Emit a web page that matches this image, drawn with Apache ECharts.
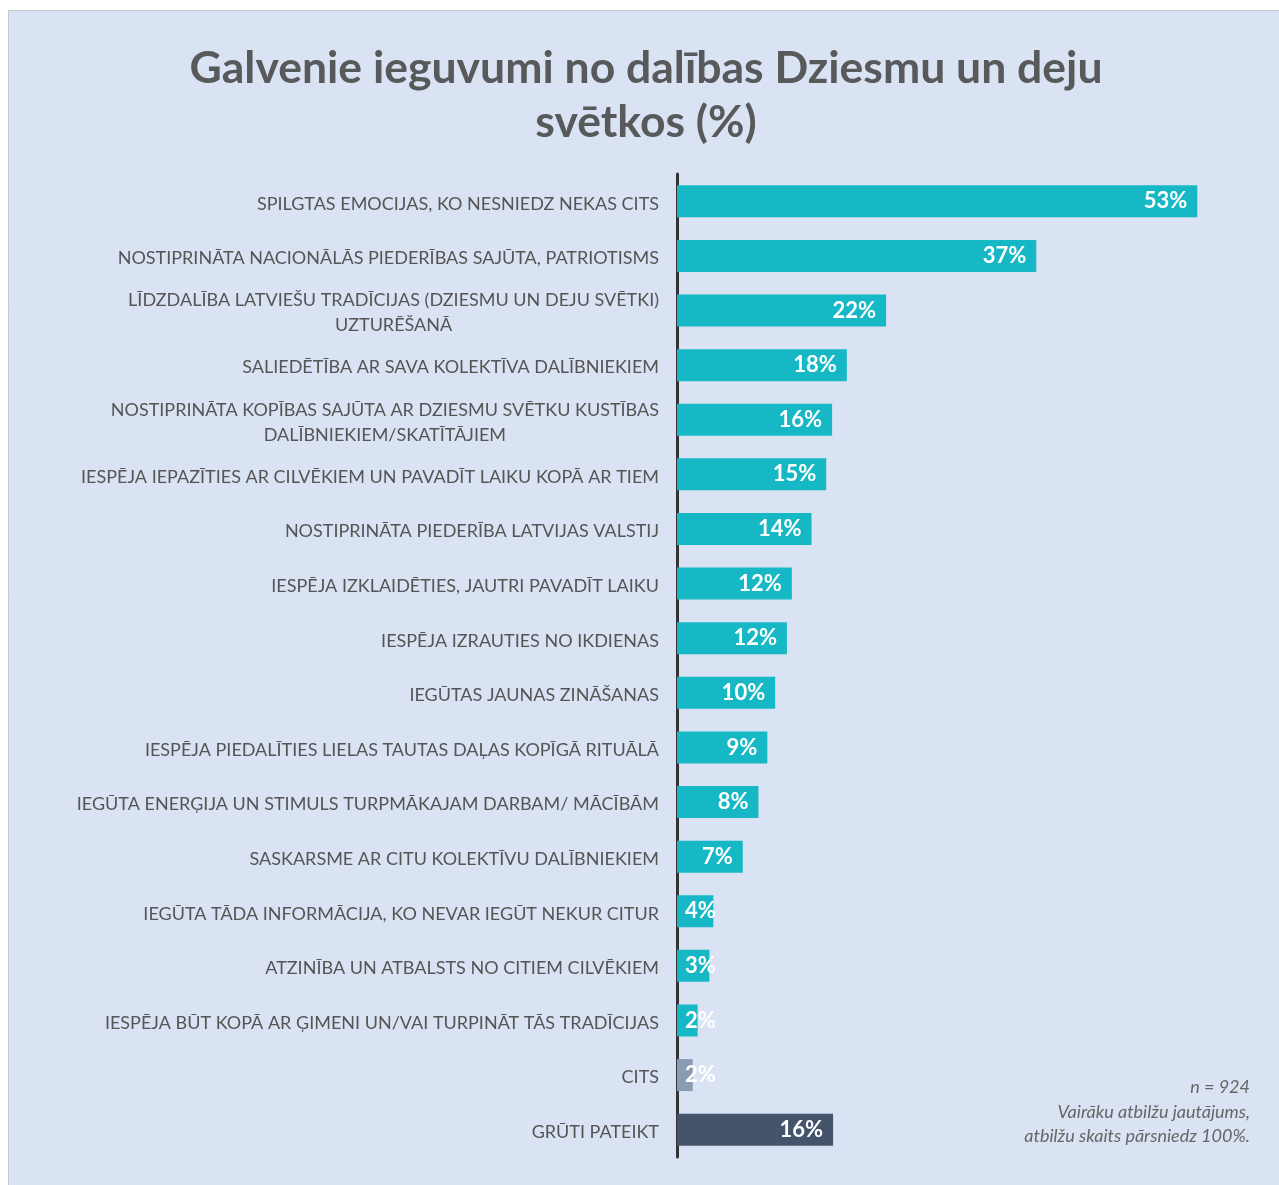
<!DOCTYPE html>
<html>
<head>
<meta charset="utf-8">
<script src="https://cdn.jsdelivr.net/npm/echarts@6/dist/echarts.min.js"></script>
<style>
  html, body { margin: 0; padding: 0; background: #fff; }
  #chart { width: 1279px; height: 1185px; }
</style>
</head>
<body>
<div id="chart"></div>
<script>
// kategorijas (no augšas uz leju)
const categories = [
    'SPILGTAS EMOCIJAS, KO NESNIEDZ NEKAS CITS',
    'NOSTIPRINĀTA NACIONĀLĀS PIEDERĪBAS SAJŪTA, PATRIOTISMS',
    'LĪDZDALĪBA LATVIEŠU TRADĪCIJAS (DZIESMU UN DEJU SVĒTKI)\nUZTURĒŠANĀ',
    'SALIEDĒTĪBA AR SAVA KOLEKTĪVA DALĪBNIEKIEM',
    'NOSTIPRINĀTA KOPĪBAS SAJŪTA AR DZIESMU SVĒTKU KUSTĪBAS\nDALĪBNIEKIEM/SKATĪTĀJIEM',
    'IESPĒJA IEPAZĪTIES AR CILVĒKIEM UN PAVADĪT LAIKU KOPĀ AR TIEM',
    'NOSTIPRINĀTA PIEDERĪBA LATVIJAS VALSTIJ',
    'IESPĒJA IZKLAIDĒTIES, JAUTRI PAVADĪT LAIKU',
    'IESPĒJA IZRAUTIES NO IKDIENAS',
    'IEGŪTAS JAUNAS ZINĀŠANAS',
    'IESPĒJA PIEDALĪTIES LIELAS TAUTAS DAĻAS KOPĪGĀ RITUĀLĀ',
    'IEGŪTA ENERĢIJA UN STIMULS TURPMĀKAJAM DARBAM/ MĀCĪBĀM',
    'SASKARSME AR CITU KOLEKTĪVU DALĪBNIEKIEM',
    'IEGŪTA TĀDA INFORMĀCIJA, KO NEVAR IEGŪT NEKUR CITUR',
    'ATZINĪBA UN ATBALSTS NO CITIEM CILVĒKIEM',
    'IESPĒJA BŪT KOPĀ AR ĢIMENI UN/VAI TURPINĀT TĀS TRADĪCIJAS',
    'CITS',
    'GRŪTI PATEIKT'
];
// joslu garums (nolasīts no attēla)
const values = [53.0, 36.6, 21.3, 17.3, 15.8, 15.2, 13.7, 11.7, 11.2, 10.0, 9.2, 8.3, 6.7, 3.7, 3.3, 2.1, 1.6, 15.9];
// uzraksti uz joslām
const valueLabels = ['53%', '37%', '22%', '18%', '16%', '15%', '14%', '12%', '12%', '10%', '9%', '8%', '7%', '4%', '3%', '2%', '2%', '16%'];
// krāsas
const barColors = ['#17b8c6', '#17b8c6', '#17b8c6', '#17b8c6', '#17b8c6', '#17b8c6', '#17b8c6', '#17b8c6', '#17b8c6',
    '#17b8c6', '#17b8c6', '#17b8c6', '#17b8c6', '#17b8c6', '#17b8c6', '#17b8c6', '#8a9bb4', '#45546b'];

const chart = echarts.init(document.getElementById('chart'));

const barData = values.map((v, i) => {
    const item = {
        value: v,
        itemStyle: { color: barColors[i] }
    };
    // mazās joslas - uzraksts no kreisās malas
    if (v < 5) {
        item.label = { position: 'insideLeft', distance: 8 };
    }
    return item;
});

const option = {
    backgroundColor: '#ffffff',
    animation: false,
    graphic: [{
        type: 'rect',
        z: -10,
        shape: { x: 8.5, y: 10.5, width: 1290, height: 1200 },
        style: { fill: '#dae3f3', stroke: '#c4c7cc', lineWidth: 1 }
    }],
    title: [{
        text: 'Galvenie ieguvumi no dalības Dziesmu un deju\nsvētkos (%)',
        left: 641,
        top: 37,
        textAlign: 'center',
        textStyle: {
            fontFamily: 'Lato',
            fontWeight: 'bold',
            fontSize: 44.5,
            lineHeight: 54,
            color: '#58595b'
        }
    }, {
        text: 'n = 924\nVairāku atbilžu jautājums,\natbilžu skaits pārsniedz 100%.',
        left: 1245,
        top: 1070,
        textAlign: 'right',
        textStyle: {
            fontFamily: 'Lato',
            fontStyle: 'italic',
            fontWeight: 'normal',
            fontSize: 18,
            lineHeight: 24.5,
            color: '#666666'
        }
    }],
    grid: {
        left: 677,
        top: 174,
        width: 589,
        height: 983
    },
    xAxis: {
        type: 'value',
        min: 0,
        max: 60,
        show: false
    },
    yAxis: {
        type: 'category',
        inverse: true,
        data: categories,
        axisLine: { show: true, lineStyle: { color: '#333333', width: 3 } },
        axisTick: { show: false },
        axisLabel: {
            margin: 18,
            fontFamily: 'Lato',
            fontSize: 18,
            color: '#555555',
            padding: [5, 0, 0, 0],
            formatter: (val) => val.split('\n').map(s => '{c|' + s + '}').join('\n'),
            rich: {
                c: {
                    align: 'center',
                    fontFamily: 'Lato',
                    fontSize: 18,
                    lineHeight: 25,
                    color: '#555555'
                }
            }
        }
    },
    series: [{
        type: 'bar',
        data: barData,
        barWidth: 32,
        label: {
            show: true,
            position: 'insideRight',
            distance: 10,
            color: '#ffffff',
            fontFamily: 'Lato',
            fontWeight: 'bold',
            fontSize: 22,
            formatter: (p) => valueLabels[p.dataIndex]
        }
    }]
};

chart.setOption(option);
</script>
</body>
</html>
